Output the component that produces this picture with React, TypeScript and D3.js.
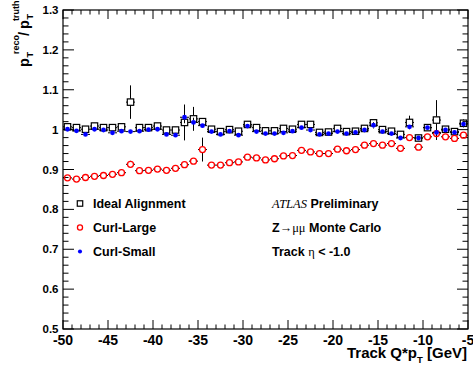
import React from "react";
import * as d3 from "d3";

// Bin centres of track charge × pT [GeV]
const binCentres = [
  -49.5, -48.5, -47.5, -46.5, -45.5, -44.5, -43.5, -42.5, -41.5, -40.5,
  -39.5, -38.5, -37.5, -36.5, -35.5, -34.5, -33.5, -32.5, -31.5, -30.5,
  -29.5, -28.5, -27.5, -26.5, -25.5, -24.5, -23.5, -22.5, -21.5, -20.5,
  -19.5, -18.5, -17.5, -16.5, -15.5, -14.5, -13.5, -12.5, -11.5, -10.5,
  -9.5, -8.5, -7.5, -6.5, -5.5,
];

// pT(reco)/pT(truth) per bin
const idealValues = [
  1.007, 1.005, 1.001, 1.009, 1.005, 1.005, 1.007, 1.069, 1.005, 1.005,
  1.009, 0.999, 0.999, 1.018, 1.027, 1.02, 1.001, 0.995, 1.0, 0.996,
  1.013, 1.005, 0.997, 0.997, 1.003, 1.001, 1.013, 1.013, 0.993, 0.994,
  1.003, 0.995, 0.996, 1.003, 1.017, 1.0, 0.996, 0.988, 1.018, 0.979,
  1.005, 1.024, 1.001, 0.995, 1.016,
];
const idealErrors = [
  0.004, 0.004, 0.004, 0.004, 0.004, 0.004, 0.004, 0.042, 0.004, 0.004,
  0.004, 0.004, 0.004, 0.045, 0.03, 0.006, 0.004, 0.004, 0.004, 0.004,
  0.004, 0.004, 0.004, 0.004, 0.004, 0.004, 0.004, 0.004, 0.004, 0.004,
  0.004, 0.004, 0.004, 0.004, 0.008, 0.004, 0.004, 0.004, 0.017, 0.004,
  0.006, 0.05, 0.006, 0.004, 0.01,
];

const curlLargeValues = [
  0.879, 0.876, 0.88, 0.883, 0.885, 0.888, 0.892, 0.913, 0.897, 0.898,
  0.901, 0.898, 0.903, 0.912, 0.921, 0.95, 0.911, 0.911, 0.917, 0.919,
  0.931, 0.929, 0.924, 0.927, 0.934, 0.935, 0.948, 0.944, 0.94, 0.94,
  0.951, 0.947, 0.95, 0.961, 0.965, 0.961, 0.965, 0.953, 0.98, 0.956,
  0.982, 0.99, 0.982, 0.978, 0.986,
];
const curlLargeErrors = [
  0.003, 0.003, 0.003, 0.003, 0.003, 0.003, 0.003, 0.009, 0.003, 0.003,
  0.003, 0.003, 0.003, 0.004, 0.008, 0.03, 0.003, 0.003, 0.003, 0.003,
  0.003, 0.003, 0.003, 0.003, 0.003, 0.003, 0.003, 0.003, 0.003, 0.003,
  0.003, 0.003, 0.003, 0.003, 0.004, 0.003, 0.003, 0.003, 0.006, 0.003,
  0.004, 0.006, 0.004, 0.004, 0.004,
];

const curlSmallValues = [
  1.001, 0.997, 0.988, 1.001, 0.999, 0.992, 0.996, 0.995, 0.996, 1.0,
  1.001, 0.988, 0.986, 1.031, 1.018, 1.01, 0.995, 0.988, 0.996, 0.986,
  1.009, 0.995, 0.99, 0.99, 0.992, 0.996, 1.005, 0.999, 0.988, 0.99,
  0.995, 0.99, 0.993, 0.999, 1.011, 0.995, 0.99, 0.979, 1.007, 0.979,
  1.005, 0.993, 0.999, 0.993, 1.014,
];
const curlSmallErrors = [
  0.003, 0.003, 0.003, 0.003, 0.003, 0.003, 0.003, 0.003, 0.003, 0.003,
  0.003, 0.003, 0.003, 0.015, 0.012, 0.004, 0.003, 0.003, 0.003, 0.003,
  0.003, 0.003, 0.003, 0.003, 0.003, 0.003, 0.003, 0.003, 0.003, 0.003,
  0.003, 0.003, 0.003, 0.003, 0.008, 0.003, 0.003, 0.003, 0.006, 0.003,
  0.005, 0.005, 0.004, 0.004, 0.008,
];

const xMajorTicks = [-50, -45, -40, -35, -30, -25, -20, -15, -10, -5];
const yMajorTicks = [0.5, 0.6, 0.7, 0.8, 0.9, 1.0, 1.1, 1.2, 1.3];
const yTickLabels = ["0.5", "0.6", "0.7", "0.8", "0.9", "1", "1.1", "1.2", "1.3"];
const legendLabels = ["Ideal Alignment", "Curl-Large", "Curl-Small"];

const W = 473;
const H = 369;
const M = { left: 63, right: 468, top: 10, bottom: 329 };
const SANS = "'Liberation Sans', Arial, Helvetica, sans-serif";
const SERIF = "'Liberation Serif', 'Times New Roman', serif";

const x = d3.scaleLinear().domain([-50, -5]).range([M.left, M.right]);
const y = d3.scaleLinear().domain([0.5, 1.3]).range([M.bottom, M.top]);

type Kind = "square" | "ring" | "dot";

function Marker({ kind, cx, cy, small }: { kind: Kind; cx: number; cy: number; small?: boolean }) {
  const k = small ? 0.85 : 1;
  if (kind === "square") {
    const s = 6.4 * k;
    return <rect x={cx - s / 2} y={cy - s / 2} width={s} height={s} fill="none" stroke="#000" strokeWidth={1.2} />;
  }
  if (kind === "ring") {
    return <circle cx={cx} cy={cy} r={3 * k} fill="none" stroke="#ff0000" strokeWidth={1.3} />;
  }
  return <circle cx={cx} cy={cy} r={2.4 * k} fill="#0000ff" />;
}

function Series({ values, errors, kind }: { values: number[]; errors: number[]; kind: Kind }) {
  const gap = kind === "dot" ? 2.4 : 3.4;
  return (
    <g>
      {values.map((v, i) => {
        const cx = x(binCentres[i]);
        const cy = y(v);
        const xl = x(binCentres[i] - 0.5);
        const xr = x(binCentres[i] + 0.5);
        const yt = y(v + errors[i]);
        const yb = y(v - errors[i]);
        return (
          <g key={i}>
            <g stroke="#000" strokeWidth={1}>
              <line x1={xl} x2={cx - gap} y1={cy} y2={cy} />
              <line x1={cx + gap} x2={xr} y1={cy} y2={cy} />
              {cy - yt > gap && <line x1={cx} x2={cx} y1={yt} y2={cy - gap} />}
              {yb - cy > gap && <line x1={cx} x2={cx} y1={cy + gap} y2={yb} />}
            </g>
            <Marker kind={kind} cx={cx} cy={cy} />
          </g>
        );
      })}
    </g>
  );
}

export default function App() {
  const xMinor = d3.range(-50, -4.5, 1);
  const yMinor = d3.range(0, 41).map((i) => 0.5 + i * 0.02);
  const legendKinds: Kind[] = ["square", "ring", "dot"];
  const rowY = [203.5, 227.5, 251.5];

  return (
    <svg
      width={W}
      height={H}
      style={{ position: "fixed", left: 0, top: 0, background: "#fff" }}
      fontFamily={SANS}
    >
      <rect x={0} y={0} width={W} height={H} fill="#fff" />

      {/* ticks on all four sides, pointing inward */}
      <g stroke="#000" strokeWidth={1}>
        {xMinor.map((t) => {
          const major = xMajorTicks.includes(t);
          const len = major ? 9 : 4.5;
          return (
            <g key={"x" + t}>
              <line x1={x(t)} x2={x(t)} y1={M.bottom} y2={M.bottom - len} />
              <line x1={x(t)} x2={x(t)} y1={M.top} y2={M.top + len} />
            </g>
          );
        })}
        {yMinor.map((t, i) => {
          const major = i % 5 === 0;
          const len = major ? 11 : 5.5;
          return (
            <g key={"y" + i}>
              <line x1={M.left} x2={M.left + len} y1={y(t)} y2={y(t)} />
              <line x1={M.right} x2={M.right - len} y1={y(t)} y2={y(t)} />
            </g>
          );
        })}
      </g>

      {/* frame */}
      <rect
        x={M.left}
        y={M.top}
        width={M.right - M.left}
        height={M.bottom - M.top}
        fill="none"
        stroke="#000"
        strokeWidth={1.2}
      />

      {/* tick labels */}
      <g fontWeight="bold" fill="#000">
        {xMajorTicks.map((t) => (
          <text key={t} x={x(t)} y={344.5} fontSize={14} textAnchor="middle">
            {String(t)}
          </text>
        ))}
        {yMajorTicks.map((t, i) => (
          <text key={t} x={58.5} y={y(t) + 4} fontSize={11.5} textAnchor="end">
            {yTickLabels[i]}
          </text>
        ))}
      </g>

      {/* axis titles */}
      <text x={467} y={358} fontSize={15} fontWeight="bold" textAnchor="end">
        Track Q*p
        <tspan fontSize={9.5} dy={5}>T</tspan>
        <tspan dy={-5}> [GeV]</tspan>
      </text>
      <g transform="translate(28.5,67) rotate(-90)" fontWeight="bold">
        <text x={0} y={0} fontSize={14.5}>p</text>
        <text x={9.5} y={4.5} fontSize={9}>T</text>
        <text x={13} y={-10} fontSize={9}>reco</text>
        <text x={31} y={0} fontSize={14.5}>/</text>
        <text x={38} y={0} fontSize={14.5}>p</text>
        <text x={47.5} y={4.5} fontSize={9}>T</text>
        <text x={46} y={-10} fontSize={9}>truth</text>
      </g>

      {/* data */}
      <Series values={idealValues} errors={idealErrors} kind="square" />
      <Series values={curlLargeValues} errors={curlLargeErrors} kind="ring" />
      <Series values={curlSmallValues} errors={curlSmallErrors} kind="dot" />

      {/* legend */}
      <g fontWeight="bold" fontSize={12.5}>
        {legendLabels.map((label, i) => (
          <g key={label}>
            <Marker kind={legendKinds[i]} cx={80} cy={rowY[i]} small />
            <text x={93} y={rowY[i] + 4.5}>{label}</text>
          </g>
        ))}
      </g>

      {/* annotations */}
      <g fontSize={12.5}>
        <text x={272} y={208}>
          <tspan fontFamily={SERIF} fontStyle="italic">ATLAS</tspan>
          <tspan fontWeight="bold"> Preliminary</tspan>
        </text>
        <text x={272} y={232}>
          <tspan fontWeight="bold">Z</tspan>
          <tspan fontFamily={SERIF}>{"\u2192\u03bc\u03bc"}</tspan>
          <tspan fontWeight="bold"> Monte Carlo</tspan>
        </text>
        <text x={272} y={256}>
          <tspan fontWeight="bold">Track </tspan>
          <tspan fontFamily={SERIF}>{"\u03b7"}</tspan>
          <tspan fontWeight="bold"> &lt; -1.0</tspan>
        </text>
      </g>
    </svg>
  );
}
